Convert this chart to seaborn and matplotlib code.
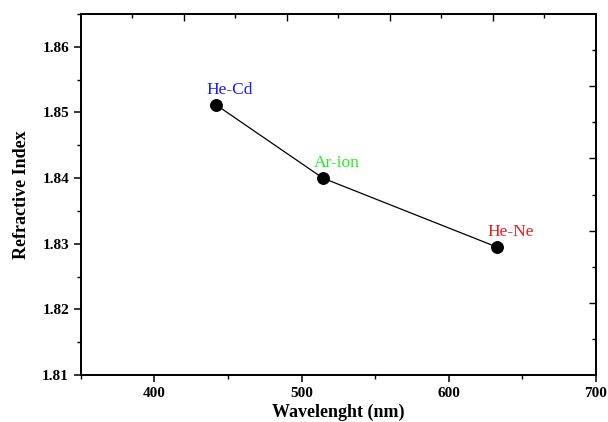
import matplotlib
matplotlib.use("Agg")
import matplotlib.pyplot as plt
import seaborn as sns
import pandas as pd
from matplotlib.ticker import MultipleLocator, FixedLocator

# ---- data ----
lasers = ["He-Cd", "Ar-ion", "He-Ne"]
wavelength_nm = [441.6, 514.5, 632.8]
refractive_index = [1.8512, 1.8400, 1.8295]
label_colors = ["#1a1aff", "#22ee22", "#ee1c1c"]
x_ticks = [400, 500, 600, 700]
y_ticks = [1.81, 1.82, 1.83, 1.84, 1.85, 1.86]

df = pd.DataFrame({"Wavelength": wavelength_nm, "n": refractive_index, "laser": lasers})

sns.set_style("ticks")
plt.rcParams["font.family"] = ["Liberation Serif", "DejaVu Serif"]
plt.rcParams.update({"text.color": "black", "axes.labelcolor": "black",
                     "xtick.color": "black", "ytick.color": "black",
                     "axes.edgecolor": "black"})

fig = plt.figure(figsize=(6.08, 4.22), dpi=100)
ax = fig.add_axes([0.133, 0.111, 0.847, 0.856])

sns.lineplot(data=df, x="Wavelength", y="n", ax=ax, color="black", linewidth=0.9,
             marker="o", markersize=8.5, markeredgecolor="black", markerfacecolor="black",
             sort=False)

for lab, xv, yv, c in zip(lasers, wavelength_nm, refractive_index, label_colors):
    ax.annotate(lab, (xv, yv), xytext=(10, 5), textcoords="offset points",
                ha="center", va="bottom", color=c, fontsize=12.5)

ax.set_xlim(350, 700)
ax.set_ylim(1.81, 1.865)
ax.xaxis.set_major_locator(FixedLocator(x_ticks))
ax.xaxis.set_minor_locator(MultipleLocator(50))
ax.yaxis.set_major_locator(FixedLocator(y_ticks))
ax.yaxis.set_minor_locator(MultipleLocator(0.005))
ax.set_xticklabels([str(t) for t in x_ticks])
ax.set_yticklabels([f"{t:.2f}" for t in y_ticks])

ax.tick_params(axis="both", which="major", direction="out", length=5, width=1.1,
               labelsize=11, colors="black")
ax.tick_params(axis="both", which="minor", direction="out", length=3, width=1.0, colors="black")
for lbl in ax.get_xticklabels() + ax.get_yticklabels():
    lbl.set_fontweight("bold")

ax.set_xlabel("Wavelenght (nm)", fontsize=13, fontweight="bold", labelpad=3, color="black")
ax.set_ylabel("Refractive Index", fontsize=13, fontweight="bold", labelpad=9, color="black")

for sp in ax.spines.values():
    sp.set_visible(True)
    sp.set_linewidth(1.1)
    sp.set_color("black")

# opposite axes (inward ticks with their own spacing)
axt = ax.twiny()
axt.set_xlim(0, 10)
axt.xaxis.set_major_locator(FixedLocator([2, 4, 6, 8]))
axt.xaxis.set_minor_locator(FixedLocator([1, 3, 5, 7, 9]))
axt.tick_params(axis="x", which="major", direction="in", length=5, width=1.0, labeltop=False)
axt.tick_params(axis="x", which="minor", direction="in", length=3, width=1.0)
axt.set_xticklabels([])

axr = ax.twinx()
axr.set_ylim(10, 0)
axr.yaxis.set_major_locator(FixedLocator([2, 4, 6, 8]))
axr.yaxis.set_minor_locator(FixedLocator([1, 3, 5, 7, 9]))
axr.tick_params(axis="y", which="major", direction="in", length=5, width=1.0, labelright=False)
axr.tick_params(axis="y", which="minor", direction="in", length=3, width=1.0)
axr.set_yticklabels([])
for a in (axt, axr):
    for sp in a.spines.values():
        sp.set_linewidth(1.1)
        sp.set_color("black")

fig.savefig("out.png", dpi=100)
